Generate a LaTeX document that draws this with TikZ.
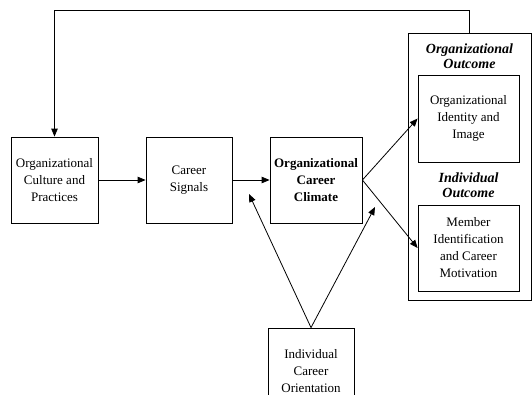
\documentclass[tikz,border=0pt]{standalone}
\usepackage{fontspec}
\setmainfont{Liberation Serif}
\usetikzlibrary{arrows.meta}

\tikzset{
    box/.style={draw, line width=0.8pt, align=center, inner sep=2pt,
        font=\fontsize{13}{17}\selectfont},
    title/.style={align=center, font=\fontsize{14}{15.5}\selectfont\bfseries\itshape},
    arr/.style={line width=0.8pt, -{Triangle[length=8pt,width=6.5pt]}}
}

\begin{document}
\begin{tikzpicture}[x=1pt, y=-1pt]
        \useasboundingbox (0,0) rectangle (532,394);

        \node[box, minimum width=87pt, minimum height=86pt] (culture) at (54.5,180) {Organizational\\Culture and\\Practices};
        \node[box, minimum width=86pt, minimum height=86pt] (signals) at (189,180) {Career\\Signals};
        \node[box, minimum width=92pt, minimum height=86pt] (climate) at (316,180) {\textbf{Organizational}\\\textbf{Career}\\\textbf{Climate}};
        \node[box, minimum width=123pt, minimum height=267pt] (outcome) at (469.5,166.5) {};
        \node[title] (orgtitle) at (469.5,56) {Organizational\\Outcome};
        \node[box, minimum width=101pt, minimum height=87pt] (identity) at (468.5,118.5) {Organizational\\Identity and\\Image};
        \node[title] (indtitle) at (468.5,185) {Individual\\Outcome};
        \node[box, minimum width=101pt, minimum height=86pt] (member) at (468.5,248) {Member\\Identification\\and Career\\Motivation};
        \node[box, minimum width=86pt, minimum height=86pt] (orientation) at (311,371) {Individual\\Career\\Orientation};

        \coordinate (turn) at (469.5,10);
        \coordinate (totsignals) at (249,194);
        \coordinate (toclimate) at (375,207);

        \draw[arr] (culture) -- (signals);
        \draw[arr] (signals) -- (climate);
        \draw[arr] (climate.east) -- (identity.west);
        \draw[arr] (climate.east) -- (member.west);
        \draw[arr] (orientation.north) -- (totsignals);
        \draw[arr] (orientation.north) -- (toclimate);
        \draw[arr] (outcome.north) -- (turn) -| (culture.north);
    \end{tikzpicture}
\end{document}
